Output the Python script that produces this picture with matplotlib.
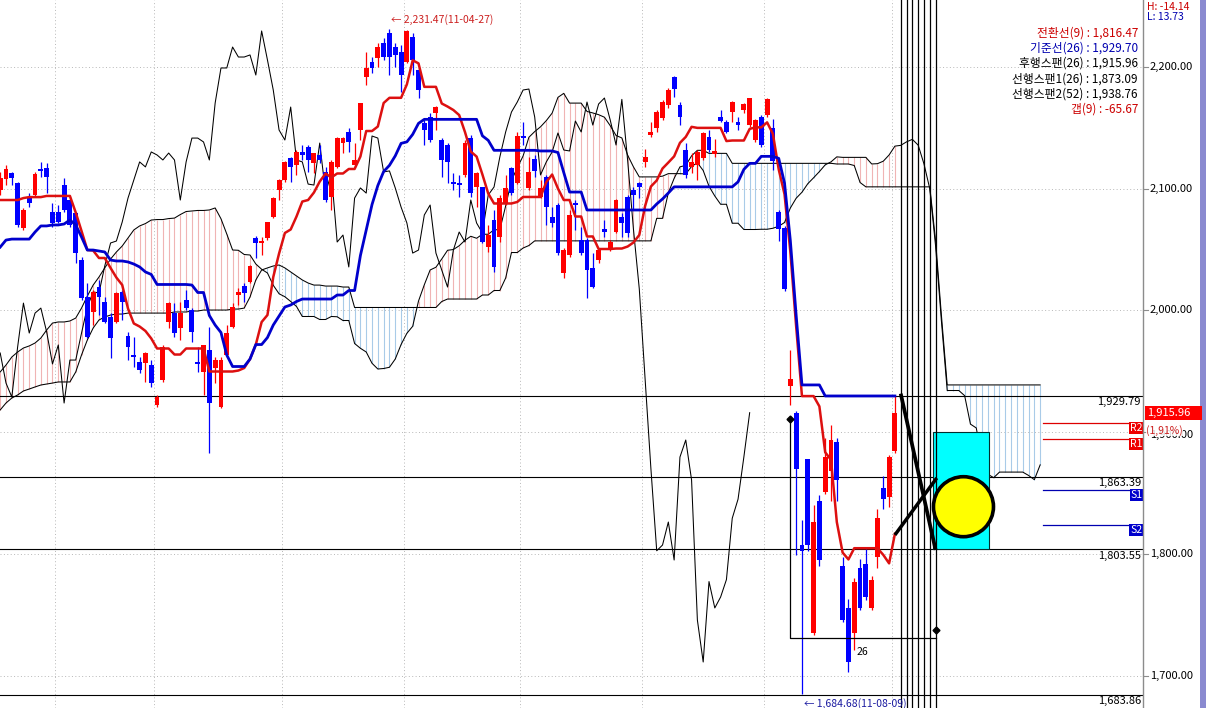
import numpy as np
import matplotlib
matplotlib.use("Agg")
import matplotlib.pyplot as plt
import matplotlib.transforms as mtrans
from matplotlib.patches import Rectangle, Ellipse
from matplotlib.lines import Line2D

plt.rcParams['font.family'] = ['Noto Sans CJK KR', 'DejaVu Sans']

# ---------------- data (daily OHLC, index 0 .. 154) ----------------
opens = [2098.9, 2108.0, 2112.9, 2104.6, 2067.7, 2093.1, 2094.8, 2116.2, 2117.0, 2080.9,
         2080.9, 2103.0, 2090.7, 2080.0, 2041.4, 2011.0, 1998.7, 2019.2, 2006.9, 1994.6,
         1990.5, 2015.2, 1979.0, 1963.4, 1957.6, 1956.8, 1955.1, 1922.3, 1942.8, 1990.5,
         1997.8, 1985.5, 2008.5, 2000.3, 1957.6, 1949.4, 1967.5, 1952.7, 1920.6, 1963.4,
         1986.3, 2012.7, 2020.0, 2023.4, 2059.5, 2055.4, 2059.5, 2076.7, 2098.9, 2107.1,
         2125.2, 2119.5, 2130.2, 2134.3, 2121.1, 2127.7, 2113.8, 2093.1, 2117.9, 2137.5,
         2146.6, 2119.5, 2148.2, 2191.8, 2204.1, 2207.4, 2219.7, 2227.9, 2216.4, 2212.3,
         2204.1, 2224.6, 2197.5, 2154.0, 2158.9, 2162.2, 2140.0, 2135.9, 2105.5, 2104.6,
         2111.3, 2141.6, 2101.4, 2101.4, 2052.1, 2074.3, 2060.3, 2088.2, 2117.0, 2104.6,
         2143.3, 2100.6, 2124.4, 2093.1, 2109.6, 2076.7, 2086.6, 2030.7, 2045.5, 2088.2,
         2057.8, 2057.8, 2034.9, 2041.4, 2066.9, 2049.6, 2064.4, 2076.7, 2093.1, 2098.9,
         2104.6, 2122.0, 2144.1, 2149.9, 2158.1, 2168.7, 2191.5, 2168.7, 2131.8, 2117.9,
         2119.5, 2125.2, 2142.5, 2128.5, 2158.9, 2154.8, 2163.0, 2154.8, 2164.7, 2152.3,
         2140.0, 2158.9, 2160.8, 2149.9, 2080.6, 2068.0, 1937.5, 1915.7, 1807.2, 1877.9,
         1734.9, 1843.4, 1850.8, 1868.4, 1891.9, 1790.0, 1755.5, 1734.9, 1788.3, 1791.6,
         1755.5, 1797.7, 1854.3, 1846.4, 1884.1]
highs = [2113.8, 2119.5, 2113.8, 2105.5, 2084.1, 2096.4, 2113.8, 2122.0, 2121.1, 2088.2,
         2086.6, 2108.8, 2093.1, 2080.9, 2043.8, 2022.5, 2016.8, 2025.0, 2011.0, 1997.8,
         2015.2, 2016.8, 1982.3, 1978.1, 1961.7, 1965.8, 1959.2, 1930.5, 1971.6, 2006.9,
         2006.0, 2006.9, 2016.8, 2001.9, 1969.9, 1971.6, 1986.3, 1961.7, 1961.7, 1988.0,
         2006.0, 2018.4, 2022.5, 2037.3, 2061.1, 2060.3, 2072.6, 2093.1, 2108.0, 2122.8,
         2126.1, 2131.8, 2135.9, 2135.9, 2129.3, 2135.9, 2117.9, 2123.6, 2142.5, 2142.5,
         2149.9, 2137.5, 2170.4, 2212.3, 2208.2, 2219.7, 2223.8, 2231.47, 2219.7, 2218.1,
         2230.4, 2227.9, 2200.0, 2156.4, 2162.2, 2167.9, 2141.6, 2137.5, 2112.9, 2111.3,
         2140.0, 2144.1, 2113.8, 2101.4, 2070.2, 2082.5, 2094.8, 2111.3, 2117.9, 2146.6,
         2154.8, 2126.1, 2127.7, 2107.1, 2111.3, 2084.9, 2088.2, 2051.3, 2082.5, 2090.7,
         2068.5, 2059.5, 2047.1, 2051.3, 2074.3, 2057.8, 2091.5, 2080.0, 2094.8, 2101.4,
         2105.5, 2132.6, 2154.8, 2164.7, 2172.9, 2182.7, 2192.84, 2171.2, 2137.5, 2129.3,
         2131.8, 2146.6, 2148.2, 2140.8, 2164.7, 2156.4, 2172.1, 2158.9, 2170.4, 2174.7,
         2157.3, 2160.5, 2174.5, 2157.6, 2082.2, 2069.6, 1967.5, 1917.3, 1827.8, 1877.9,
         1840.1, 1848.3, 1895.1, 1906.1, 1895.1, 1797.4, 1763.2, 1780.1, 1796.1, 1803.9,
         1781.7, 1837.0, 1863.7, 1881.2, 1929.79]
lows = [2094.8, 2103.0, 2103.0, 2068.5, 2066.1, 2084.9, 2093.1, 2109.6, 2096.4, 2068.5,
        2071.8, 2080.9, 2068.5, 2038.9, 2008.5, 1977.3, 1988.0, 1996.2, 1989.6, 1960.9,
        1989.6, 1992.1, 1959.2, 1953.5, 1948.5, 1941.2, 1937.1, 1920.6, 1941.2, 1985.5,
        1978.1, 1975.7, 2000.3, 1974.1, 1949.4, 1930.5, 1882.8, 1940.3, 1919.8, 1961.7,
        1985.5, 2004.4, 2006.9, 2022.5, 2043.0, 2045.5, 2057.8, 2075.9, 2090.7, 2105.5,
        2105.5, 2111.3, 2123.6, 2113.8, 2112.9, 2121.1, 2089.0, 2082.5, 2117.0, 2129.3,
        2130.2, 2117.9, 2140.0, 2185.2, 2195.1, 2200.0, 2205.8, 2193.4, 2200.0, 2179.5,
        2203.3, 2193.4, 2174.5, 2135.9, 2138.4, 2148.2, 2109.6, 2104.6, 2098.9, 2093.1,
        2109.6, 2093.1, 2084.9, 2055.4, 2048.0, 2031.6, 2056.2, 2086.6, 2094.8, 2103.8,
        2135.9, 2098.9, 2109.6, 2092.3, 2070.2, 2068.5, 2045.5, 2026.6, 2043.8, 2066.1,
        2045.5, 2010.2, 2018.4, 2038.9, 2060.3, 2048.8, 2063.6, 2060.3, 2060.3, 2082.5,
        2092.3, 2117.9, 2142.5, 2146.6, 2156.4, 2166.3, 2175.3, 2152.3, 2108.8, 2112.9,
        2107.1, 2123.6, 2130.2, 2126.1, 2154.8, 2145.8, 2154.8, 2148.2, 2162.2, 2150.7,
        2138.4, 2134.3, 2159.2, 2115.4, 2057.0, 2016.2, 1921.9, 1799.2, 1684.68, 1802.3,
        1733.3, 1790.0, 1849.1, 1843.4, 1843.4, 1743.9, 1703.1, 1720.9, 1753.8, 1762.1,
        1753.8, 1788.3, 1837.0, 1838.4, 1882.8]
closes = [2108.8, 2116.2, 2108.8, 2070.2, 2082.5, 2088.2, 2112.1, 2114.6, 2109.6, 2071.8,
          2072.7, 2082.5, 2070.2, 2047.1, 2010.2, 1978.1, 2015.2, 2011.0, 1990.5, 1977.3,
          2014.3, 2006.9, 1969.9, 1961.7, 1951.0, 1965.0, 1940.3, 1928.8, 1969.9, 2006.0,
          1981.4, 1997.8, 2001.9, 1982.3, 1956.0, 1971.6, 1923.9, 1959.2, 1959.2, 1981.4,
          2002.8, 2015.2, 2014.3, 2036.5, 2055.4, 2057.0, 2072.6, 2092.3, 2107.1, 2122.0,
          2117.9, 2130.2, 2127.7, 2123.6, 2129.3, 2123.6, 2090.7, 2122.0, 2141.6, 2141.6,
          2138.4, 2123.6, 2170.4, 2199.2, 2199.2, 2216.4, 2208.2, 2208.2, 2209.9, 2193.4,
          2229.6, 2205.8, 2181.1, 2148.2, 2140.0, 2167.1, 2123.6, 2122.0, 2103.8, 2103.0,
          2137.5, 2096.4, 2112.9, 2056.2, 2061.9, 2035.7, 2092.3, 2100.6, 2096.4, 2143.3,
          2141.6, 2113.8, 2114.6, 2100.6, 2084.9, 2071.8, 2047.1, 2049.6, 2078.4, 2086.6,
          2047.1, 2033.2, 2019.2, 2049.6, 2064.4, 2056.2, 2090.7, 2071.8, 2063.6, 2094.8,
          2101.4, 2126.1, 2146.6, 2163.0, 2171.2, 2181.1, 2181.9, 2158.9, 2111.3, 2122.0,
          2130.2, 2145.8, 2131.8, 2131.0, 2155.6, 2146.6, 2171.2, 2152.3, 2169.6, 2174.5,
          2156.4, 2135.9, 2173.4, 2123.1, 2066.5, 2017.7, 1943.9, 1870.0, 1802.5, 1807.2,
          1826.1, 1794.9, 1879.5, 1893.5, 1860.7, 1745.6, 1711.1, 1777.2, 1755.5, 1764.5,
          1778.8, 1829.2, 1844.9, 1879.5, 1915.96]

# Ichimoku values before enough history is on screen
tenkan_head = [2090.7, 2090.7, 2090.7, 2090.7, 2092.3, 2093.1, 2093.1, 2093.1]
kijun_head = [2052.0, 2057.8, 2058.6, 2058.6, 2058.6, 2058.6, 2064.4, 2069.4, 2069.4, 2070.2,
              2070.2, 2071.0, 2074.3, 2070.2, 2060.3, 2049.6, 2049.6, 2048.8, 2048.0, 2041.4,
              2040.6, 2040.6, 2039.8, 2038.1, 2035.7]
span1_head = [1949.4, 1955.1, 1961.7, 1965.8, 1969.1, 1970.8, 1973.2, 1977.3, 1983.9, 1989.6,
              1990.5, 1990.5, 1991.3, 1993.7, 2001.9, 2011.8, 2020.8, 2027.4, 2034.9, 2042.2,
              2048.0, 2052.9, 2059.5, 2066.1, 2069.4]
span2_head = [1918.2, 1923.9, 1928.0, 1930.5, 1933.8, 1935.4, 1937.1, 1938.7, 1939.5, 1940.3,
              1941.2, 1941.2, 1941.2, 1949.4, 1963.4, 1975.7, 1985.5, 1992.1, 1994.6, 1996.2,
              1997.0, 1997.0, 1997.8, 1997.8, 1997.8, 1997.8, 1997.8, 1997.8, 1997.8, 1997.8,
              1998.7, 1998.7, 1998.7, 1999.5, 1999.5, 2000.3, 2000.3, 2000.3, 2000.3, 2000.3,
              2001.1, 2001.1, 2001.9, 2011.0, 2025.0, 2033.2, 2034.9, 2036.5, 2037.3, 2034.9,
              2031.6, 2028.3, 2025.0, 2022.5, 2020.8, 2020.8, 2020.0, 2020.0, 2020.0, 2019.2,
              2019.2, 2002.4, 2002.4, 2002.4, 2002.4, 2002.4, 2002.4, 2002.4, 2002.4, 2002.4,
              2002.4, 2002.4, 2002.4, 2002.4, 2002.4, 2002.4]

level_values = [1929.79, 1863.39, 1803.55, 1683.86]
level_labels = ['1,929.79', '1,863.39', '1,803.55', '1,683.86']
tick_values = [2200, 2100, 2000, 1900, 1800, 1700]
tick_labels = ['2,200.00', '2,100.00', '2,000.00', '1,900.00', '1,800.00', '1,700.00']
month_breaks = [9.5, 26.5, 48.5, 69.5, 89.5, 110.5, 131.5, 153.5]
cycle_bars = [155, 156, 157, 158, 159, 160, 161]
resistance = [('R2', 1907.7), ('R1', 1894.1)]
support = [('S1', 1852.4), ('S2', 1823.6)]
legend_texts = ['전환선(9) : 1,816.47', '기준선(26) : 1,929.70', '후행스팬(26) : 1,915.96',
                '선행스팬1(26) : 1,873.09', '선행스팬2(52) : 1,938.76', '갭(9) : -65.67']
legend_colors = ['#cc0000', '#0000b0', '#000000', '#000000', '#000000', '#cc0000']
# measuring tool / drawings
tool_start = (136, 1910.8)
tool_end = (161, 1737.4)
tool_bottom = 1730.8
trend1 = ([155, 161], [1931.6, 1803.2])
trend2 = ([154, 161.2], [1815.5, 1862.3])
box_x = (160.6, 170.2)
box_y = (1803.7, 1900.3)
circle_center = (165.8, 1838.7)
last_price = 1915.96

SHIFT = 25
o = np.array(opens); h = np.array(highs); l = np.array(lows); c = np.array(closes)
N = len(c)
M = N + SHIFT


def midpoint(period):
    out = np.full(N, np.nan)
    for j in range(period - 1, N):
        out[j] = (h[j - period + 1:j + 1].max() + l[j - period + 1:j + 1].min()) / 2
    return out


tenkan = midpoint(9)
tenkan[:len(tenkan_head)] = tenkan_head
kijun = midpoint(26)
kijun[:len(kijun_head)] = kijun_head
span1_calc = (tenkan + kijun) / 2
span2_calc = midpoint(52)
span1 = np.full(M, np.nan)
span1[:len(span1_head)] = span1_head
span1[SHIFT:] = span1_calc
span2 = np.full(M, np.nan)
span2[:len(span2_head)] = span2_head
span2[len(span2_head):] = span2_calc[len(span2_head) - SHIFT:]
chikou = c[SHIFT:]

# ---------------- figure ----------------
W, H = 1206, 708
fig = plt.figure(figsize=(W / 100, H / 100), dpi=100)
fig.patch.set_facecolor('white')
PLOT_W = 1143
ax = fig.add_axes([0, 0, PLOT_W / W, 1])
ax.set_xlim(-0.033, 196.7)
ax.set_ylim(1673.3, 2255.05)
ax.set_axis_off()

# grid
for v in tick_values:
    ax.axhline(v, color='#b8b8b8', lw=0.7, ls=(0, (1, 2.5)), zorder=0)
for xb in month_breaks:
    ax.axvline(xb, color='#b8b8b8', lw=0.7, ls=(0, (1, 2.5)), zorder=0)

# cloud hatch
xs = np.arange(M)
bull = span1 >= span2
hatch_cols = np.where(bull, '#f0b4b4', '#a9cbe8')
ax.vlines(xs, np.minimum(span1, span2), np.maximum(span1, span2), colors=hatch_cols,
          lw=0.8, zorder=1)
ax.plot(xs, span1, color='black', lw=0.75, zorder=2)
ax.plot(xs, span2, color='black', lw=0.75, zorder=2)
ax.plot(np.arange(len(chikou)), chikou, color='black', lw=0.75, zorder=2)

# level lines
for v in level_values:
    ax.axhline(v, color='black', lw=0.8, zorder=2)

# candles
idx = np.arange(N)
up = c >= o
ccol = np.where(up, '#ff0000', '#0000ff')
ax.vlines(idx, l, h, colors=ccol, lw=0.9, zorder=3)
body_lo = np.minimum(o, c)
body_h = np.maximum(np.abs(c - o), 1.2)
ax.bar(idx, body_h, bottom=body_lo, width=0.84, color=ccol, linewidth=0, zorder=3)

# tenkan / kijun
ax.plot(idx, tenkan, color='#dd1010', lw=1.8, zorder=4)
ax.plot(idx, kijun, color='#0000cc', lw=2.0, zorder=4)

# measuring tool
ax.plot([tool_start[0], tool_start[0], tool_end[0]], [tool_start[1], tool_bottom, tool_bottom],
        color='black', lw=0.9, zorder=5)
ax.plot([tool_start[0], tool_end[0]], [tool_start[1], tool_end[1]], ls='none', marker='D',
        ms=3.5, color='black', zorder=5)
ax.annotate('26', xy=(147.4, tool_bottom), xytext=(0, -14), textcoords='offset pixels',
            ha='left', va='center', fontsize=7.5, color='black', zorder=6)

# cyan box, cycle lines, circle, trend lines
ax.add_patch(Rectangle((box_x[0], box_y[0]), box_x[1] - box_x[0], box_y[1] - box_y[0],
                       facecolor='#00ffff', edgecolor='#003030', lw=0.8, zorder=5))
for xb in cycle_bars:
    ax.axvline(xb, color='black', lw=0.9, zorder=5.5)
ax.add_patch(Ellipse(circle_center, width=10.33, height=49.3, facecolor='#ffff00',
                     edgecolor='black', lw=2.6, zorder=6))
ax.plot(trend1[0], trend1[1], color='black', lw=2.7, solid_capstyle='butt', zorder=7)
ax.plot(trend2[0], trend2[1], color='black', lw=2.5, solid_capstyle='butt', zorder=7)

# R / S lines
blend_ax = mtrans.blended_transform_factory(ax.transAxes, ax.transData)
for name, v in resistance:
    ax.plot([179.5, 196.7], [v, v], color='#dd0000', lw=0.9, zorder=4)
    ax.text(0.9995, v, name, transform=blend_ax, ha='right', va='top', fontsize=7.5,
            color='white', zorder=8,
            bbox=dict(facecolor='#ee0000', edgecolor='none', pad=0.6))
for name, v in support:
    ax.plot([179.5, 196.7], [v, v], color='#0000b0', lw=0.9, zorder=4)
    ax.text(0.9995, v, name, transform=blend_ax, ha='right', va='top', fontsize=7.5,
            color='white', zorder=8,
            bbox=dict(facecolor='#0000cc', edgecolor='none', pad=0.6))

# level labels
lbl_tr = mtrans.offset_copy(blend_ax, fig=fig, x=-2, y=-1, units='dots')
for v, s in zip(level_values, level_labels):
    ax.text(1.0, v, s, transform=lbl_tr, ha='right', va='top', fontsize=8, color='black',
            zorder=8)

# extreme annotations
ax.annotate('← 2,231.47(11-04-27)', xy=(67, 2231.47), xytext=(2, 9), textcoords='offset pixels',
            ha='left', va='center', fontsize=7.5, color='#cc2020', zorder=8)
ax.annotate('← 1,684.68(11-08-09)', xy=(138, 1684.68), xytext=(2, -9), textcoords='offset pixels',
            ha='left', va='center', fontsize=7.5, color='#1a1aa0', zorder=8)

# ---------------- right price axis ----------------
fig.add_artist(Line2D([PLOT_W / W, PLOT_W / W], [0, 1], color='#8c8c8c', lw=1.0,
                      transform=fig.transFigure))
fig.add_artist(Rectangle((1200 / W, 0), 6 / W, 1, transform=fig.transFigure,
                         facecolor='#8a8ad0', edgecolor='none'))
blend_fig = mtrans.blended_transform_factory(fig.transFigure, ax.transData)
for v, s in zip(tick_values, tick_labels):
    fig.add_artist(Line2D([PLOT_W / W, 1148 / W], [v, v], color='#8c8c8c', lw=0.8,
                          transform=blend_fig))
    fig.text(1150 / W, v - (2.5 if v == 1900 else 0), s, transform=blend_fig, ha='left',
             va='center', fontsize=8, color='black')

# current price box
fig.add_artist(Rectangle((1145 / W, last_price - 5.8), 57 / W, 11.6, transform=blend_fig,
                         facecolor='#ff0000', edgecolor='none', zorder=9))
fig.text(1147 / W, last_price, '1,915.96', transform=blend_fig, ha='left', va='center',
         fontsize=8, color='white', zorder=10)
fig.text(1146 / W, last_price - 14.5, '(1,91%)', transform=blend_fig, ha='left', va='center',
         fontsize=7.5, color='#cc2020', zorder=10,
         bbox=dict(facecolor='white', edgecolor='none', pad=0.2, alpha=0.85))

# H / L
fig.text(1147 / W, 1 - 7 / H, 'H: -14.14', ha='left', va='center', fontsize=7.5, color='#cc0000')
fig.text(1147 / W, 1 - 17.5 / H, 'L: 13.73', ha='left', va='center', fontsize=7.5, color='#0000b0')

# legend
for k, (s, col) in enumerate(zip(legend_texts, legend_colors)):
    fig.text(1138 / W, 1 - (33 + 15.2 * k) / H, s, ha='right', va='center', fontsize=8.5,
             color=col)

fig.savefig('out.png', dpi=100, facecolor='white')
